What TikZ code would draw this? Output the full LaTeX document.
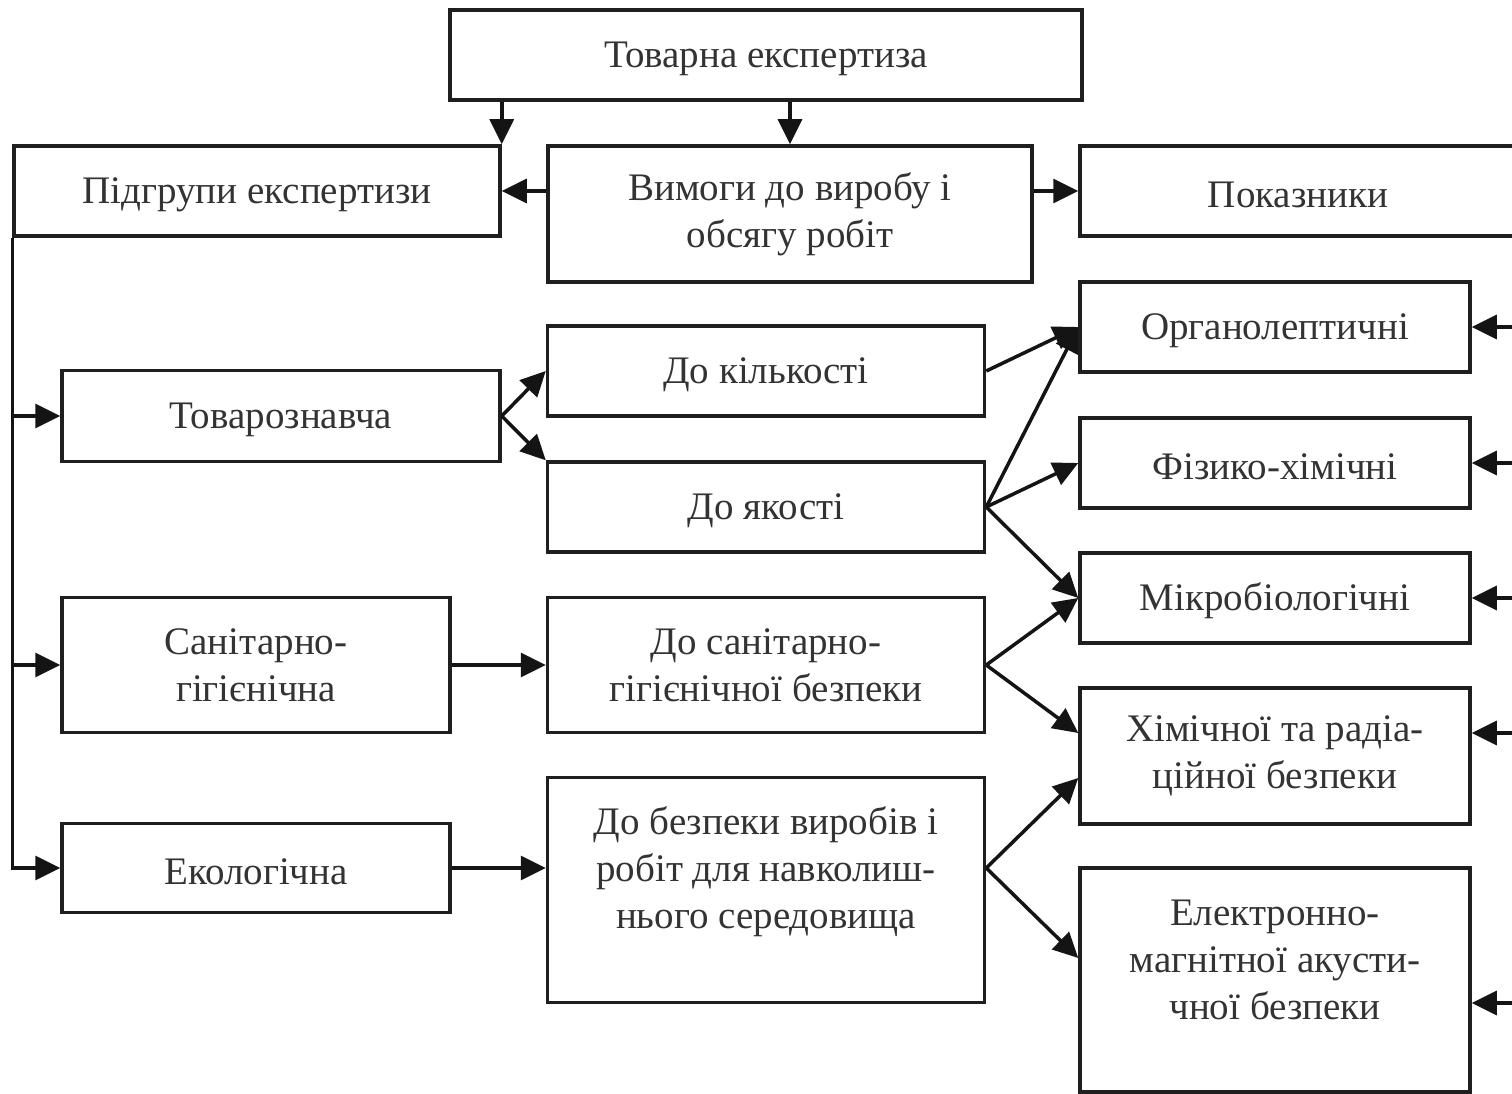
\documentclass[tikz,border=0pt]{standalone}
\usepackage{fontspec}
\setmainfont{Liberation Serif}
\usetikzlibrary{arrows.meta,calc}
\begin{document}
\begin{tikzpicture}[x=1pt,y=-1pt,
  txt/.style={font=\fontsize{39}{47}\selectfont, text=black!80},
  box/.style={draw=black!88, line width=3.5pt, rectangle, align=center, inner sep=0pt, txt,
    execute at begin node={\rule{0pt}{34pt}}},
  lbl/.style={align=center, inner sep=0pt, txt, execute at begin node={\rule{0pt}{34pt}}},
  arr/.style={draw=black!92, line width=3.5pt, -{Triangle[length=25pt,width=24pt]}}]
\useasboundingbox[fill=white] (0,0) rectangle (1512,1094);
% top
\node[box, minimum width=632pt, minimum height=90pt] (top) at (766,55) {Товарна експертиза};
\node[box, minimum width=486pt, minimum height=90pt] (pidg) at (257,191) {Підгрупи експертизи};
\node[box, minimum width=484pt, minimum height=136pt] (vym) at (790,214) {Вимоги до виробу і\\обсягу робіт};
\node[box, minimum width=450pt, minimum height=90pt] (pok) at (1305,191) {};
\node[lbl] (pokt) at (1298,191) {Показники};
% left column
\node[box, minimum width=438pt, minimum height=91pt] (tov) at (281,416) {Товарознавча};
\node[box, minimum width=388pt, minimum height=135pt] (san) at (256,665) {Санітарно-\\гігієнічна};
\node[box, minimum width=388pt, minimum height=89pt] (eko) at (256,868) {Екологічна};
% middle column
\node[box, minimum width=437pt, minimum height=90pt] (dokil) at (766,371) {До кількості};
\node[box, minimum width=437pt, minimum height=90pt] (doyak) at (766,507) {До якості};
\node[box, minimum width=437pt, minimum height=135pt] (dosan) at (766,665) {До санітарно-\\гігієнічної безпеки};
\node[box, minimum width=437pt, minimum height=225pt] (dobez) at (766,890) {};
\node[lbl] (dobezt) at (766,872) {До безпеки виробів і\\робіт для навколиш-\\нього середовища};
% right column
\node[box, minimum width=390pt, minimum height=90pt] (org) at (1275,327) {Органолептичні};
\node[box, minimum width=390pt, minimum height=90pt] (fiz) at (1275,463) {Фізико-хімічні};
\node[box, minimum width=390pt, minimum height=90pt] (mik) at (1275,598) {Мікробіологічні};
\node[box, minimum width=390pt, minimum height=136pt] (khim) at (1275,756) {Хімічної та радіа-\\ційної безпеки};
\node[box, minimum width=390pt, minimum height=224pt] (el) at (1275,980) {};
\node[lbl] (elt) at (1275,960) {Електронно-\\магнітної акусти-\\чної безпеки};
% right-edge sources
\coordinate (r1) at (1514,327);
\coordinate (r2) at (1514,463);
\coordinate (r3) at (1514,598);
\coordinate (r4) at (1514,733);
\coordinate (r5) at (1514,1003);
% top connectors
\draw[arr] (top.south -| pidg.east) -- (pidg.north east);
\draw[arr] (top.south -| vym.north) -- (vym.north);
\draw[arr] (pidg.east -| vym.west) -- (pidg.east);
\draw[arr] (pok.west -| vym.east) -- (pok.west);
% left bus
\draw[arr] (pidg.south west) |- (eko.west);
\draw[arr] (pidg.south west |- tov.west) -- (tov.west);
\draw[arr] (pidg.south west |- san.west) -- (san.west);
% left to middle
\draw[arr] (tov.east) -- (dokil.west);
\draw[arr] (tov.east) -- (doyak.north west);
\draw[arr] (san.east) -- (san.east -| dosan.west);
\draw[arr] (eko.east) -- (eko.east -| dobez.west);
% middle to right
\draw[arr] (dokil.east) -- (org.west);
\draw[arr] (doyak.east) -- (org.west);
\draw[arr] (doyak.east) -- (fiz.west);
\draw[arr] (doyak.east) -- (mik.west);
\draw[arr] (dosan.east) -- (mik.west);
\draw[arr] (dosan.east) -- ($(khim.west)+(0,-23)$);
\draw[arr] (dobez.east |- eko.east) -- ($(khim.west)+(0,22)$);
\draw[arr] (dobez.east |- eko.east) -- ($(el.west)+(0,-22)$);
% right edge arrows
\draw[arr] (r1) -- (org.east);
\draw[arr] (r2) -- (fiz.east);
\draw[arr] (r3) -- (mik.east);
\draw[arr] (r4) -- (r4 -| khim.east);
\draw[arr] (r5) -- (r5 -| el.east);
\end{tikzpicture}
\end{document}
